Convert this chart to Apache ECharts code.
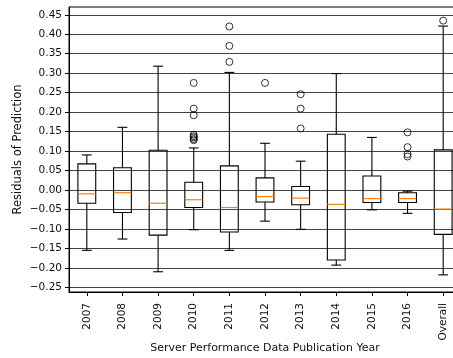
<!DOCTYPE html>
<html>
<head>
<meta charset="utf-8">
<script src="https://cdn.jsdelivr.net/npm/echarts@6/dist/echarts.min.js"></script>
<style>html,body{margin:0;padding:0;background:#fff}#c{width:453px;height:358px}</style>
</head>
<body>
<div id="c"></div>
<script>
// Categories
var categories = ["2007","2008","2009","2010","2011","2012","2013","2014","2015","2016","Overall"];
// Box statistics per category: [lower whisker, Q1, median, Q3, upper whisker]
var lowerWhisker = [-0.155, -0.126, -0.210, -0.102, -0.155, -0.080, -0.101, -0.193, -0.051, -0.060, -0.218];
var q1Values     = [-0.034, -0.058, -0.116, -0.045, -0.108, -0.031, -0.038, -0.180, -0.032, -0.032, -0.114];
var medians      = [-0.010, -0.007, -0.034, -0.025, -0.045, -0.017, -0.021, -0.037, -0.022, -0.022, -0.049];
var q3Values     = [ 0.067,  0.057,  0.102,  0.020,  0.062,  0.031,  0.009,  0.143,  0.036, -0.007,  0.103];
var upperWhisker = [ 0.090,  0.161,  0.318,  0.108,  0.302,  0.120,  0.074,  0.299,  0.135, -0.003,  0.421];
// Outliers (flier points)
var outlierCategory = ["2010","2010","2010","2010","2010","2010","2010","2010","2011","2011","2011","2012","2013","2013","2013","2016","2016","2016","2016","Overall"];
var outlierValues   = [0.275, 0.209, 0.192, 0.142, 0.138, 0.135, 0.131, 0.128, 0.420, 0.370, 0.329, 0.275, 0.246, 0.209, 0.158, 0.148, 0.110, 0.092, 0.086, 0.435];
// Y tick values
var yTicks = [-0.25, -0.20, -0.15, -0.10, -0.05, 0.00, 0.05, 0.10, 0.15, 0.20, 0.25, 0.30, 0.35, 0.40, 0.45];

var boxData = categories.map(function (c, i) {
  return [i, lowerWhisker[i], q1Values[i], medians[i], q3Values[i], upperWhisker[i]];
});
var outlierData = outlierCategory.map(function (c, i) { return [c, outlierValues[i]]; });

var font = 'DejaVu Sans';
var chart = echarts.init(document.getElementById('c'), null, {renderer: 'canvas'});
chart.setOption({
  animation: false,
  grid: {left: 69, top: 7, width: 392, height: 285, outerBoundsMode: 'none', containLabel: false,
    show: true, borderColor: '#000', borderWidth: 1, backgroundColor: 'transparent'},
  xAxis: {
    type: 'category',
    data: categories,
    boundaryGap: true,
    name: 'Server Performance Data Publication Year',
    nameLocation: 'middle',
    nameGap: 51,
    nameMoveOverlap: false,
    nameTextStyle: {fontFamily: font, fontSize: 11, color: '#111'},
    axisLine: {show: true, onZero: false, lineStyle: {color: '#000', width: 1}},
    axisTick: {show: true, alignWithLabel: true, length: 4, lineStyle: {color: '#000'}},
    axisLabel: {rotate: 90, fontFamily: font, fontSize: 10.5, color: '#111', margin: 11, interval: 0},
    splitLine: {show: false}
  },
  yAxis: {
    type: 'value',
    min: -0.262,
    max: 0.47,
    name: 'Residuals of Prediction',
    nameLocation: 'middle',
    nameGap: 45,
    nameMoveOverlap: false,
    nameTextStyle: {fontFamily: font, fontSize: 11.5, color: '#111'},
    axisLine: {show: true, lineStyle: {color: '#000', width: 1}},
    axisTick: {show: true, length: 4, lineStyle: {color: '#000'}, customValues: yTicks},
    axisLabel: {fontFamily: font, fontSize: 10.5, color: '#111', margin: 7, customValues: yTicks,
      formatter: function (v) { return v.toFixed(2).replace('-', '\u2212'); }},
    splitLine: {show: true, lineStyle: {color: '#444', width: 1}}
  },
  series: [
    {
      type: 'custom',
      data: boxData,
      encode: {x: 0, y: [1, 2, 3, 4, 5]},
      renderItem: function (params, api) {
        var idx = api.value(0);
        var band = api.size([1, 0])[0];
        var bw = band * 0.5;
        var cw = bw * 0.55;
        var pLow = api.coord([idx, api.value(1)]);
        var pQ1 = api.coord([idx, api.value(2)]);
        var pMed = api.coord([idx, api.value(3)]);
        var pQ3 = api.coord([idx, api.value(4)]);
        var pHigh = api.coord([idx, api.value(5)]);
        var x = pQ1[0];
        var ls = {stroke: '#000', lineWidth: 1.1, fill: null};
        return {
          type: 'group',
          children: [
            {type: 'rect', shape: {x: x - bw / 2, y: pQ3[1], width: bw, height: pQ1[1] - pQ3[1]}, style: {fill: 'rgba(255,255,255,0)', stroke: '#000', lineWidth: 1.1}},
            {type: 'line', shape: {x1: x, y1: pQ3[1], x2: x, y2: pHigh[1]}, style: ls},
            {type: 'line', shape: {x1: x, y1: pQ1[1], x2: x, y2: pLow[1]}, style: ls},
            {type: 'line', shape: {x1: x - cw / 2, y1: pHigh[1], x2: x + cw / 2, y2: pHigh[1]}, style: ls},
            {type: 'line', shape: {x1: x - cw / 2, y1: pLow[1], x2: x + cw / 2, y2: pLow[1]}, style: ls},
            {type: 'line', shape: {x1: x - bw / 2, y1: pMed[1], x2: x + bw / 2, y2: pMed[1]}, style: {stroke: '#ff7f0e', lineWidth: 1.2}}
          ]
        };
      }
    },
    {
      type: 'scatter',
      data: outlierData,
      symbol: 'circle',
      symbolSize: 7,
      itemStyle: {color: 'rgba(255,255,255,0)', borderColor: '#000', borderWidth: 1}
    }
  ]
});
</script>
</body>
</html>
